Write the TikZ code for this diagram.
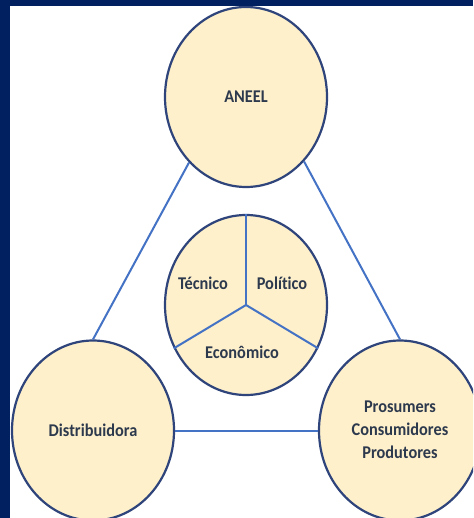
\documentclass[tikz,border=0pt]{standalone}
\usepackage{fontspec}
\setmainfont[Ligatures={NoCommon,NoRequired,NoContextual}]{Carlito}
\usetikzlibrary{shapes.geometric}
\definecolor{frame}{RGB}{0,32,96}
\definecolor{fillc}{RGB}{254,240,203}
\definecolor{rim}{RGB}{46,68,122}
\definecolor{conn}{RGB}{68,114,196}
\definecolor{txt}{RGB}{45,57,77}
\newcommand{\lbl}[1]{\scalebox{1.02}[1.12]{#1}}
\tikzset{
  bub/.style={ellipse, draw=rim, fill=fillc, line width=2.2pt, minimum width=162pt, minimum height=180pt, inner sep=0pt,
    text=txt, font=\fontsize{16}{20.5}\selectfont\bfseries},
  lab/.style={text=txt, font=\fontsize{16}{20.5}\selectfont\bfseries, inner sep=0pt},
  link/.style={draw=conn, line width=2pt},
}
\begin{document}
\begin{tikzpicture}[x=1pt,y=1pt]
\useasboundingbox (0,0) rectangle (473,-518);
\fill[white] (0,0) rectangle (473,-518);
\begin{scope}
\clip (0,0) rectangle (473,-518);
\node[bub] (aneel) at (246,-97) {\lbl{ANEEL}};
\node[bub] (mid) at (246,-305) {};
\node[bub] (dist) at (93,-430.5) {\lbl{Distribuidora}};
\node[bub] (pros) at (400,-430.5) {\lbl{\begin{tabular}{@{}c@{}}Prosumers\\Consumidores\\Produtores\end{tabular}}};
\end{scope}
\draw[link] (aneel.229) -- (dist.90);
\draw[link] (aneel.312) -- (pros.90);
\draw[link] (dist.east) -- (pros.west);
\draw[link] (mid.90) -- (mid.center);
\draw[link] (mid.center) -- (mid.211);
\draw[link] (mid.center) -- (mid.329);
\node[lab] (tec) at (203,-283) {\lbl{Técnico}};
\node[lab] (pol) at (282,-283) {\lbl{Político}};
\node[lab] (eco) at (242,-352) {\lbl{Econômico}};
\fill[frame] (0,0) rectangle (473,-6);
\fill[frame] (0,0) rectangle (10,-518);
\end{tikzpicture}
\end{document}
